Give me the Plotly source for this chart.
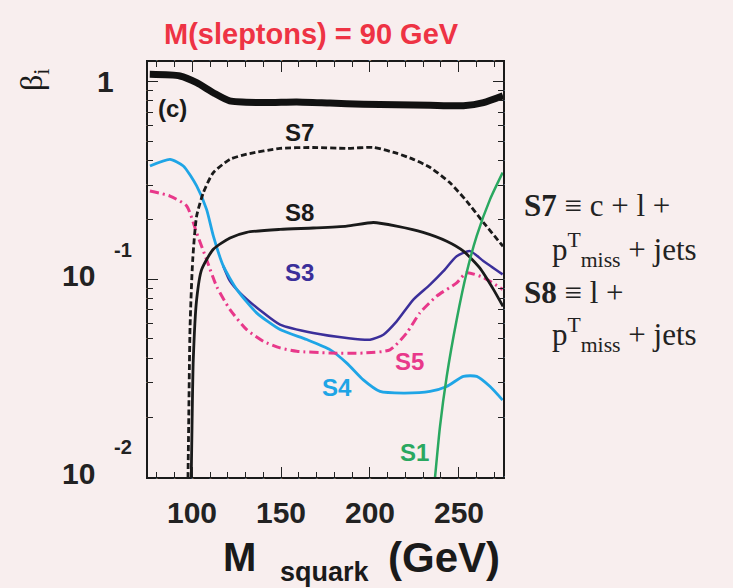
import plotly.graph_objects as go

# ---------------- data ----------------
tot_x = [76, 93, 102.4, 111.8, 121, 140, 158.8, 177.5, 196.3, 215, 234, 252.7, 264, 275]
tot_y = [1.09, 1.07, 0.99, 0.88, 0.80, 0.785, 0.79, 0.78, 0.77, 0.765, 0.76, 0.757, 0.785, 0.85]

s7_x = [97.4, 97.9, 98.7, 100.2, 102.4, 106.2, 111.8, 121.2, 130.6, 149.4, 168.1, 187, 202, 215, 224.5, 234, 245, 254.5, 264, 275]
s7_y = [0.008, 0.018, 0.058, 0.126, 0.209, 0.275, 0.347, 0.405, 0.43, 0.46, 0.465, 0.46, 0.465, 0.435, 0.405, 0.368, 0.309, 0.249, 0.194, 0.147]

s8_x = [99.2, 99.8, 100.5, 102.4, 105.2, 111.8, 121.2, 130.6, 149.4, 168.1, 187, 202, 215, 230, 243.3, 252.7, 262, 269.6, 275]
s8_y = [0.008, 0.018, 0.039, 0.079, 0.112, 0.142, 0.162, 0.173, 0.179, 0.182, 0.186, 0.194, 0.186, 0.173, 0.156, 0.139, 0.114, 0.089, 0.073]

s4_x = [76.1, 87.4, 94.9, 102.4, 108, 111.8, 117.4, 125, 136.2, 149.4, 164.4, 177.5, 187, 196.3, 205.7, 218.9, 233.9, 243.3, 252.7, 260.2, 267.7, 274.8]
s4_y = [0.375, 0.405, 0.375, 0.297, 0.226, 0.166, 0.117, 0.089, 0.0677, 0.0557, 0.0496, 0.0441, 0.0377, 0.031, 0.0271, 0.0266, 0.0271, 0.0287, 0.0323, 0.0323, 0.0287, 0.0245]

s5_x = [76.1, 87.4, 96.8, 102.4, 108, 113.7, 121.2, 130.6, 140, 149.4, 158.8, 177.5, 196.3, 211.3, 220.7, 228.2, 237.6, 248.9, 254.5, 264, 274.8]
s5_y = [0.28, 0.264, 0.235, 0.172, 0.126, 0.092, 0.0703, 0.0557, 0.0486, 0.045, 0.0433, 0.0424, 0.0424, 0.044, 0.0535, 0.0677, 0.0822, 0.096, 0.108, 0.102, 0.089]

s3_x = [117.4, 121.2, 126.8, 140, 149.4, 168.1, 187, 200.1, 207.6, 215.1, 224.5, 233.9, 241.4, 248.9, 256.4, 263.9, 274.8]
s3_y = [0.117, 0.098, 0.0855, 0.0677, 0.059, 0.0535, 0.0505, 0.0495, 0.0525, 0.0613, 0.079, 0.094, 0.110, 0.131, 0.139, 0.124, 0.106]

s1_x = [236.5, 239.5, 243.3, 248.9, 254.5, 260.2, 267.7, 274.8]
s1_y = [0.0095, 0.018, 0.0323, 0.0625, 0.108, 0.166, 0.254, 0.347]

x_range = [75, 275]
x_ticks = [100, 150, 200, 250]
y_ticks = [1, 0.1, 0.01]
y_minor = [m * d for d in (0.01, 0.1, 1) for m in range(2, 10) if m * d < 1.26]

# y tick labels: (base, exponent, log10 position)
y_labels = [("1", "", 0.0), ("10", "-1", -1.0), ("10", "-2", -2.0)]

# labels: (text, x, log10 y, colour)
curve_labels = [
    ("(c)", 89, -0.136, "#1a1a1a"),
    ("S7", 160.6, -0.255, "#1a1a1a"),
    ("S8", 160.6, -0.661, "#1a1a1a"),
    ("S3", 160.6, -0.965, "#3b2f9a"),
    ("S5", 222.6, -1.416, "#e8388a"),
    ("S4", 181.5, -1.548, "#1fa5e6"),
    ("S1", 225.4, -1.878, "#2aa860"),
]

BG = "#f8eeee"
SANS = "Liberation Sans, Arial, sans-serif"
SERIF = "Liberation Serif, Times New Roman, serif"

# plot area in pixels (for placing free text)
L, R, T, B = 148, 503, 62, 477
def px(x):
    return (x - L) / (R - L)
def py(y):
    return (B - y) / (B - T)

fig = go.Figure()

def add(x, y, color, width, dash="solid"):
    fig.add_trace(go.Scatter(x=x, y=y, mode="lines",
                             line=dict(color=color, width=width, dash=dash, shape="spline", smoothing=0.6),
                             showlegend=False, hoverinfo="skip"))

add(s3_x, s3_y, "#3b2f9a", 2.5)
add(s4_x, s4_y, "#1fa5e6", 2.8)
add(s5_x, s5_y, "#e8388a", 3, "9px,4px,2px,4px")
add(s8_x, s8_y, "#1a1a1a", 2.8)
add(s7_x, s7_y, "#1a1a1a", 2.8, "6px,3px")
add(s1_x, s1_y, "#2aa860", 2.5)
add(tot_x, tot_y, "#111111", 7)

# tick axes: labels kept on but tiny and background-coloured (so ticks get drawn)
tk = dict(ticks="inside", tickwidth=1.3, tickcolor="#222", showticklabels=True,
          tickfont=dict(size=1, color=BG), showgrid=False, zeroline=False)
frame = dict(showline=True, linecolor="#1a1a1a", linewidth=2, mirror=True)
ylog = dict(type="log", range=[-2, 0.1], tickmode="array")

fig.update_layout(
    xaxis=dict(range=x_range, tickmode="array", tickvals=x_ticks, ticklen=10, **tk, **frame),
    yaxis=dict(tickvals=y_ticks, ticklen=10, **ylog, **tk, **frame),
    xaxis2=dict(range=x_range, overlaying="x", side="top", anchor="y", tickmode="array",
                tickvals=x_ticks, ticklen=10, **tk),
    xaxis3=dict(range=x_range, overlaying="x", side="bottom", anchor="y", dtick=10, tick0=0,
                ticklen=5, **tk),
    xaxis4=dict(range=x_range, overlaying="x", side="top", anchor="y", dtick=10, tick0=0,
                ticklen=5, **tk),
    yaxis2=dict(overlaying="y", side="right", anchor="x", tickvals=y_ticks, ticklen=10, **ylog, **tk),
    yaxis3=dict(overlaying="y", side="left", anchor="x", tickvals=y_minor, ticklen=5, **ylog, **tk),
    yaxis4=dict(overlaying="y", side="right", anchor="x", tickvals=y_minor, ticklen=5, **ylog, **tk),
)
# invisible traces to activate the extra tick axes
for xa, ya in (("x2", "y2"), ("x3", "y3"), ("x4", "y4")):
    fig.add_trace(go.Scatter(x=[150], y=[0.5], xaxis=xa, yaxis=ya, mode="markers",
                             marker=dict(opacity=0), showlegend=False, hoverinfo="skip"))

ann = []
for t, x, ly, c in curve_labels:
    ann.append(dict(x=x, y=ly, xref="x", yref="y", text="<b>%s</b>" % t, showarrow=False,
                    xanchor="center", yanchor="middle",
                    font=dict(family=SANS, size=24, color=c)))

for v in x_ticks:
    ann.append(dict(x=v, y=py(512), xref="x", yref="paper", text="<b>%d</b>" % v, showarrow=False,
                    xanchor="center", yanchor="middle", font=dict(family=SANS, size=30, color="#222")))

for base, ex, ly in y_labels:
    if ex == "":
        ann.append(dict(x=px(105), y=ly, xref="paper", yref="y", text="<b>%s</b>" % base, showarrow=False,
                        xanchor="center", yanchor="middle", font=dict(family=SANS, size=30, color="#222")))
    else:
        ann.append(dict(x=px(97), y=ly + 0.02, xref="paper", yref="y", text="<b>%s</b>" % base, showarrow=False,
                        xanchor="right", yanchor="middle", font=dict(family=SANS, size=30, color="#222")))
        ann.append(dict(x=px(112), y=ly + 0.15, xref="paper", yref="y", text="<b>%s</b>" % ex, showarrow=False,
                        xanchor="left", yanchor="middle", font=dict(family=SANS, size=20, color="#222")))

ann.append(dict(x=px(311), y=py(34), xref="paper", yref="paper", xanchor="center", yanchor="middle",
                text="<b>M(sleptons) = 90 GeV</b>", showarrow=False,
                font=dict(family=SANS, size=29, color="#ee3344")))
ann.append(dict(x=px(33), y=py(80), xref="paper", yref="paper", xanchor="center", yanchor="middle",
                text="β<sub>i</sub>", textangle=-90, showarrow=False,
                font=dict(family=SERIF, size=32, color="#1a1a1a")))
ann.append(dict(x=px(239), y=py(557), xref="paper", yref="paper", xanchor="center", yanchor="middle",
                text="<b>M</b>", showarrow=False, font=dict(family=SANS, size=40, color="#1a1a1a")))
ann.append(dict(x=px(325), y=py(572), xref="paper", yref="paper", xanchor="center", yanchor="middle",
                text="<b>squark</b>", showarrow=False, font=dict(family=SANS, size=27, color="#1a1a1a")))
ann.append(dict(x=px(444), y=py(557), xref="paper", yref="paper", xanchor="center", yanchor="middle",
                text="<b>(GeV)</b>", showarrow=False, font=dict(family=SANS, size=42, color="#1a1a1a")))

right_txt = [
    ("<b>S7</b> ≡ c + l +", 522, 205),
    ("p<sup>T</sup><sub>miss</sub> + jets", 550, 250),
    ("<b>S8</b> ≡ l +", 522, 292),
    ("p<sup>T</sup><sub>miss</sub> + jets", 550, 335),
]
for t, x0, y0 in right_txt:
    ann.append(dict(x=px(x0), y=py(y0), xref="paper", yref="paper",
                    xanchor="left", yanchor="middle", text=t, showarrow=False,
                    font=dict(family=SERIF, size=31, color="#222")))

fig.update_layout(width=733, height=588, margin=dict(l=L, r=733 - R, t=T, b=588 - B),
                  paper_bgcolor=BG, plot_bgcolor=BG, annotations=ann)

fig.write_html("out.html")
